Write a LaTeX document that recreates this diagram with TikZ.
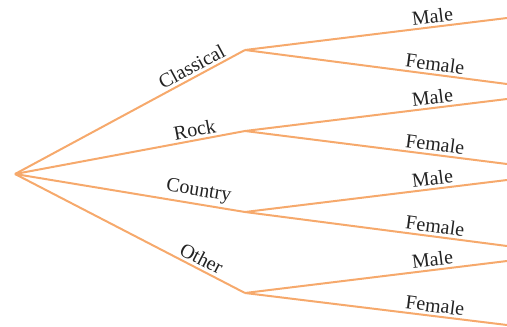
\documentclass[tikz,border=0pt]{standalone}
\usepackage{fontspec}
\setmainfont{Liberation Serif}
\usepackage{xcolor}
\usetikzlibrary{positioning}
\definecolor{TreeOrange}{HTML}{F6A96C}
\definecolor{TreeText}{HTML}{222222}
\tikzset{
  branch/.style={draw=TreeOrange,line width=1.5pt,line join=round},
  genrelab/.style={sloped,above,pos=0.79,inner sep=2pt,text=TreeText,font=\fontsize{15}{18}\selectfont},
  sexlab/.style={sloped,above,pos=0.72,inner sep=2pt,text=TreeText,font=\fontsize{15}{18}\selectfont}
}

\begin{document}
\begin{tikzpicture}[x=0.75pt,y=-0.75pt]
\useasboundingbox (0,0) rectangle (507,326);
\coordinate (root) at (15,174);
\coordinate (classical) at (245,50);
\coordinate (rock) at (245,131);
\coordinate (country) at (245,212);
\coordinate (other) at (245,293);
\coordinate (cm) at (507,18);
\coordinate (cf) at (507,84);
\coordinate (rm) at (507,99);
\coordinate (rf) at (507,164);
\coordinate (com) at (507,180);
\coordinate (cof) at (507,246);
\coordinate (om) at (507,261);
\coordinate (of) at (507,325);
% first level
\draw[branch] (root) -- node[genrelab] {Classical} (classical);
\draw[branch] (root) -- node[genrelab] {Rock} (rock);
\draw[branch] (root) -- node[genrelab] {Country} (country);
\draw[branch] (root) -- node[genrelab] {Other} (other);
% second level
\draw[branch] (classical) -- node[sexlab] {Male} (cm);
\draw[branch] (classical) -- node[sexlab] {Female} (cf);
\draw[branch] (rock) -- node[sexlab] {Male} (rm);
\draw[branch] (rock) -- node[sexlab] {Female} (rf);
\draw[branch] (country) -- node[sexlab] {Male} (com);
\draw[branch] (country) -- node[sexlab] {Female} (cof);
\draw[branch] (other) -- node[sexlab] {Male} (om);
\draw[branch] (other) -- node[sexlab] {Female} (of);
\end{tikzpicture}
\end{document}
